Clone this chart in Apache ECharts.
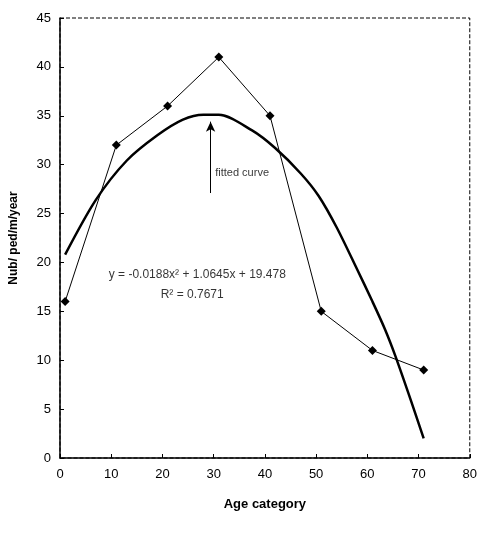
<!DOCTYPE html>
<html><head><meta charset="utf-8">
<script src="https://cdn.jsdelivr.net/npm/echarts@6/dist/echarts.min.js"></script>
<style>html,body{margin:0;padding:0;background:#fff}#c{width:480px;height:534px}</style>
</head><body><div id="c"></div>
<script>
var ageCategory = [1, 11, 21, 31, 41, 51, 61, 71];
var numberValues = [16, 32, 36, 41, 35, 15, 11, 9];
var curveX = [1, 7, 13, 19, 24, 28, 31, 37.5, 42, 47, 50.5, 54, 58, 61, 63.5, 65.5, 68.5, 71];
var curveY = [20.8, 26.4, 30.4, 33.0, 34.6, 35.1, 35.1, 33.5, 31.7, 29.1, 26.8, 23.6, 19.3, 16.0, 13.1, 10.4, 5.9, 2.0];
var xTicks = [0, 10, 20, 30, 40, 50, 60, 70, 80];
var yTicks = [0, 5, 10, 15, 20, 25, 30, 35, 40, 45];
var equationText = 'y = -0.0188x\u00b2 + 1.0645x + 19.478';
var r2Text = 'R\u00b2 = 0.7671';
var arrowLabel = 'fitted curve';

var FONT = '"Liberation Sans Narrow", "Arial Narrow", "Liberation Sans", sans-serif';
var chart = echarts.init(document.getElementById('c'));
var obsData = ageCategory.map(function(x, i){ return [x, numberValues[i]]; });
var fitData = curveX.map(function(x, i){ return [x, curveY[i]]; });

chart.setOption({
  animation: false,
  backgroundColor: '#fff',
  grid: { left: 59, right: 7, top: 18, bottom: 76, show: true, borderColor: '#000', borderWidth: 1, borderType: 'dashed' },
  xAxis: {
    type: 'value', min: xTicks[0], max: xTicks[xTicks.length-1], interval: 10,
    name: 'Age category', nameLocation: 'middle', nameGap: 40,
    nameTextStyle: { fontFamily: FONT, fontSize: 13, fontWeight: 'bold', color: '#000' },
    axisLine: { lineStyle: { color: '#000', width: 1.5 } },
    axisTick: { show: true, inside: true, length: 4, lineStyle: { color: '#000' } },
    axisLabel: { fontFamily: FONT, fontSize: 13, color: '#000', margin: 10 },
    splitLine: { show: false }
  },
  yAxis: {
    type: 'value', min: yTicks[0], max: yTicks[yTicks.length-1], interval: 5,
    name: 'Nub/ ped/m/year', nameLocation: 'middle', nameGap: 40,
    nameTextStyle: { fontFamily: FONT, fontSize: 12, fontWeight: 'bold', color: '#000' },
    axisLine: { show: true, lineStyle: { color: '#000', width: 1.5 } },
    axisTick: { show: true, inside: true, length: 4, lineStyle: { color: '#000' } },
    axisLabel: { fontFamily: FONT, fontSize: 13, color: '#000', margin: 9 },
    splitLine: { show: false }
  },
  series: [
    {
      type: 'line', data: fitData, smooth: 0.3, symbol: 'none',
      lineStyle: { color: '#000', width: 2.5 }, z: 2,
      markLine: {
        silent: true, symbol: ['none', 'arrow'], symbolSize: [7, 10],
        lineStyle: { color: '#000', width: 1, type: 'solid' },
        label: { show: false },
        data: [[{ coord: [29.4, 27.1] }, { coord: [29.4, 34.4] }]]
      }
    },
    {
      type: 'line', data: obsData, symbol: 'diamond', symbolSize: 9,
      itemStyle: { color: '#000' }, lineStyle: { color: '#000', width: 1 }, z: 3
    },
    {
      type: 'scatter', symbolSize: 0, silent: true,
      data: [
        { value: [30.3, 29.2], label: { show: true, formatter: arrowLabel, position: 'right', distance: 0, fontFamily: FONT, fontSize: 11, color: '#000' } },
        { value: [26.8, 18.7], label: { show: true, formatter: equationText, position: 'inside', fontFamily: FONT, fontSize: 12, color: '#000' } },
        { value: [25.8, 16.7], label: { show: true, formatter: r2Text, position: 'inside', fontFamily: FONT, fontSize: 12, color: '#000' } }
      ]
    }
  ]
});
</script></body></html>
